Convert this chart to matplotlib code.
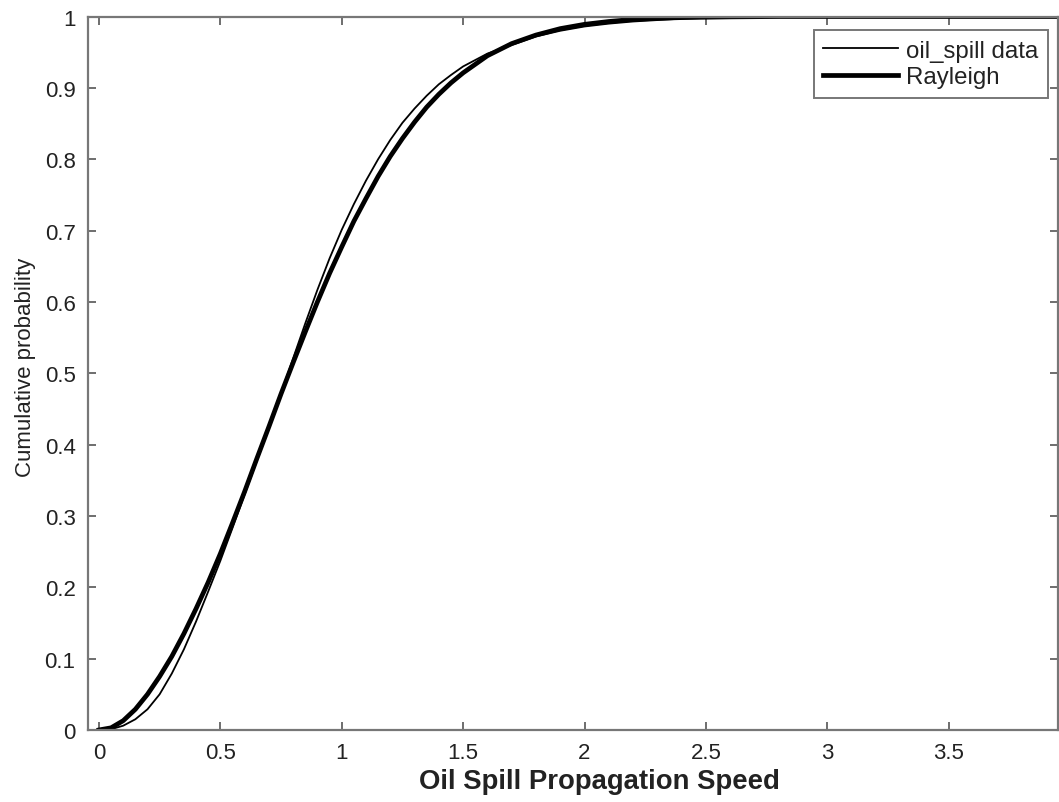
import matplotlib
matplotlib.use("Agg")
import matplotlib.pyplot as plt

plt.rcParams['font.family'] = ['Liberation Sans', 'DejaVu Sans']

# Speed grid and cumulative probabilities
speed = [0.0, 0.05, 0.1, 0.15, 0.2, 0.25, 0.3, 0.35, 0.4, 0.45, 0.5, 0.55,
         0.6, 0.65, 0.7, 0.75, 0.8, 0.85, 0.9, 0.95, 1.0, 1.05, 1.1, 1.15,
         1.2, 1.25, 1.3, 1.35, 1.4, 1.45, 1.5, 1.6, 1.7, 1.8, 1.9, 2.0,
         2.1, 2.2, 2.3, 2.4, 2.5, 2.6, 2.8, 3.0, 3.5, 3.95]

ecdf_data = [0.0, 0.001, 0.006, 0.015, 0.029, 0.050, 0.079, 0.113, 0.152,
             0.194, 0.237, 0.283, 0.330, 0.377, 0.423, 0.472, 0.521, 0.570,
             0.617, 0.661, 0.701, 0.737, 0.770, 0.800, 0.827, 0.851, 0.871,
             0.889, 0.905, 0.918, 0.930, 0.948, 0.960, 0.972, 0.980, 0.986,
             0.990, 0.993, 0.995, 0.997, 0.998, 0.999, 1.0, 1.0, 1.0, 1.0]

rayleigh_cdf = [0.0, 0.003, 0.013, 0.029, 0.050, 0.075, 0.103, 0.135, 0.170,
                0.207, 0.247, 0.290, 0.334, 0.380, 0.425, 0.471, 0.515, 0.558,
                0.600, 0.640, 0.677, 0.713, 0.745, 0.776, 0.804, 0.829, 0.852,
                0.873, 0.891, 0.907, 0.921, 0.945, 0.962, 0.974, 0.983, 0.989,
                0.993, 0.996, 0.9975, 0.9985, 0.999, 0.9995, 1.0, 1.0, 1.0, 1.0]

x_ticks = [0, 0.5, 1, 1.5, 2, 2.5, 3, 3.5]
x_tick_labels = ['0', '0.5', '1', '1.5', '2', '2.5', '3', '3.5']
y_ticks = [0, 0.1, 0.2, 0.3, 0.4, 0.5, 0.6, 0.7, 0.8, 0.9, 1]
y_tick_labels = ['0', '0.1', '0.2', '0.3', '0.4', '0.5', '0.6', '0.7', '0.8', '0.9', '1']

fig = plt.figure(figsize=(10.59, 8.03), dpi=100)
ax = fig.add_axes([0.0831, 0.0897, 0.9159, 0.8885])

ax.plot(speed, ecdf_data, color='black', lw=1.3, label='oil_spill data')
ax.plot(speed, rayleigh_cdf, color='black', lw=3.4, label='Rayleigh')

ax.set_xlim(-0.045, 3.95)
ax.set_ylim(0, 1)
ax.set_xticks(x_ticks)
ax.set_xticklabels(x_tick_labels)
ax.set_yticks(y_ticks)
ax.set_yticklabels(y_tick_labels)

ax.tick_params(direction='in', length=6, width=1.2, color='#555555',
               top=True, right=True, labelsize=16, labelcolor='#222222', pad=9)
for sp in ax.spines.values():
    sp.set_color('#777777')
    sp.set_linewidth(1.6)

ax.set_xlabel('Oil Spill Propagation Speed', fontsize=19.8, fontweight='bold',
              color='#222222')
ax.xaxis.set_label_coords(0.527, -0.054)
ax.set_ylabel('Cumulative probability', fontsize=16, color='#222222')
ax.yaxis.set_label_coords(-0.054, 0.51)

leg = ax.legend(loc='upper right', bbox_to_anchor=(0.99, 0.981), borderaxespad=0,
                fontsize=17.3, handlelength=3.1, handletextpad=0.35,
                borderpad=0.4, labelspacing=0.2, fancybox=False, framealpha=1)
leg.get_frame().set_edgecolor('#777777')
leg.get_frame().set_linewidth(1.4)
for t in leg.get_texts():
    t.set_color('#222222')

fig.savefig('out.png', dpi=100)
